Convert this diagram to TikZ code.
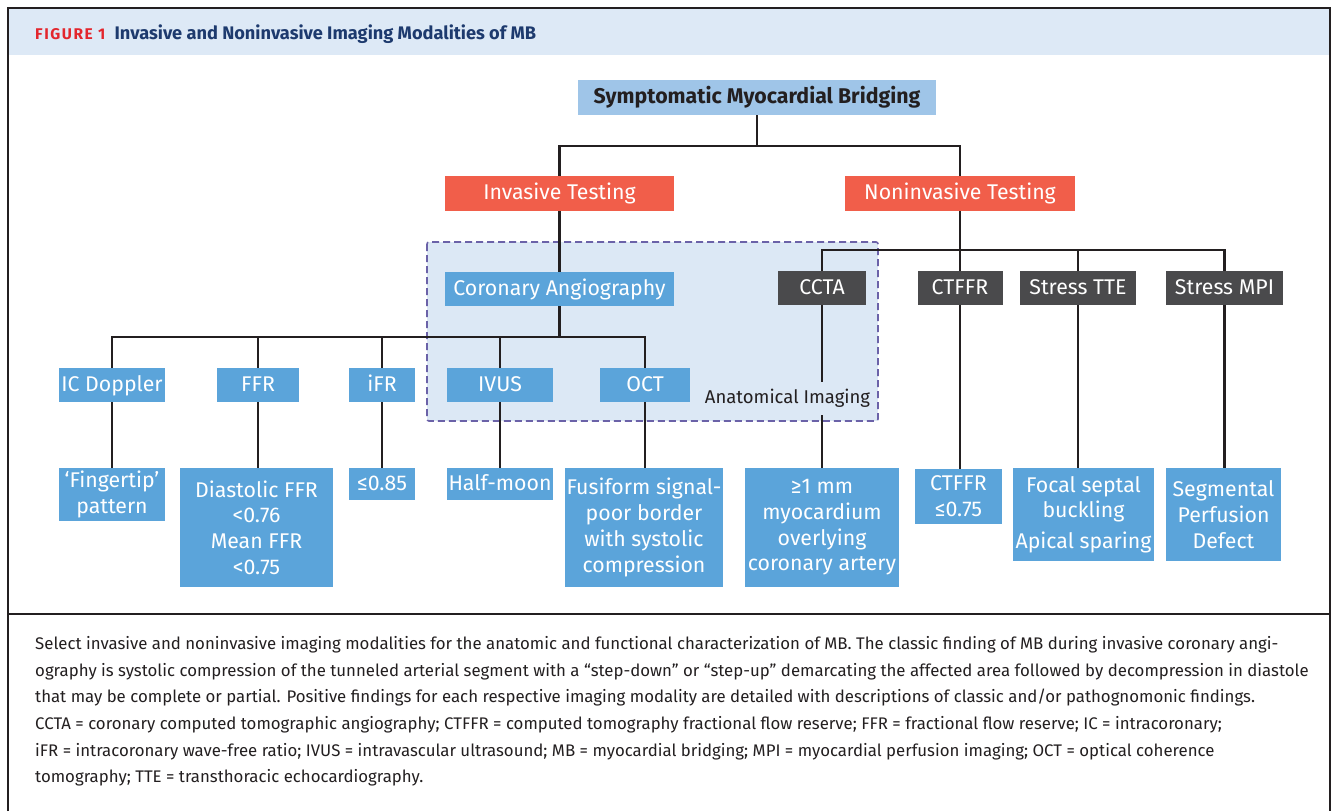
\documentclass[tikz,border=0pt]{standalone}
\usepackage{fontspec}
\setmainfont{Fira Sans}
\usetikzlibrary{positioning}
\definecolor{inkc}{HTML}{231F20}
\definecolor{barbg}{HTML}{DDE9F6}
\definecolor{rootblue}{HTML}{9FC5E8}
\definecolor{coral}{HTML}{F15E4A}
\definecolor{midblue}{HTML}{5BA4DA}
\definecolor{darkgrey}{HTML}{4A4A4C}
\definecolor{zonefill}{HTML}{DCE8F5}
\definecolor{zonedash}{HTML}{6B62A8}
\definecolor{figred}{HTML}{E3262D}
\definecolor{navy}{HTML}{1D3A6E}

\begin{document}
\begin{tikzpicture}[x=1pt, y=-1pt,
    link/.style={draw=inkc, line width=2.4pt},
    box/.style={inner sep=0pt, text=white, align=center, font={\fontsize{21.3}{25.7}\selectfont}},
    single/.style={box, text height=16pt, text depth=3.5pt},
    testbox/.style={single, fill=coral, minimum height=35pt},
    bluebox/.style={single, fill=midblue, minimum height=34pt},
    greybox/.style={single, fill=darkgrey, minimum height=34pt},
    findbox/.style={box, fill=midblue}]
    \useasboundingbox (0,0) rectangle (1335,811);
    \fill[barbg] (9,9) rectangle (1329,55);
    \draw[inkc, line width=2pt] (8,811) -- (8,8) -- (1330,8) -- (1330,811);
    \draw[inkc, line width=2pt] (8,614) -- (1330,614);
    \node[anchor=base west, inner sep=0pt, text=figred, font={\fontsize{15.5}{18}\selectfont\bfseries\addfontfeatures{LetterSpace=10}}] (fig) at (35,39.5) {FIGURE 1};
    \node[inner sep=0pt, text=navy, font={\fontsize{18.2}{21}\selectfont\bfseries}, right=9pt of fig.base east, anchor=base west] (title) {Invasive and Noninvasive Imaging Modalities of MB};

    \fill[zonefill] (427,242) rectangle (878,421);
    \draw[zonedash, line width=1.6pt, dash pattern=on 7pt off 4pt, rounded corners=2pt] (427,242) rectangle (878,421);

    \node[single, fill=rootblue, text=inkc, font={\fontsize{21.3}{25}\selectfont\bfseries}, minimum width=358pt, minimum height=35pt] (root) at (757,97.5) {Symptomatic Myocardial Bridging};
    \node[testbox, minimum width=229pt] (inv) at (559.5,193.5) {Invasive Testing};
    \node[testbox, minimum width=230pt] (noninv) at (960,193.5) {Noninvasive Testing};

    \node[bluebox, minimum width=229pt] (angio) at (559.5,289) {Coronary Angiography};
    \node[greybox, minimum width=88pt] (ccta) at (822,288) {CCTA};
    \node[greybox, minimum width=85pt] (ctffr) at (960,288) {CTFFR};
    \node[greybox, minimum width=116pt] (tte) at (1078,288) {Stress TTE};
    \node[greybox, minimum width=117pt] (mpi) at (1224.5,288) {Stress MPI};

    \node[bluebox, minimum width=106pt] (icd) at (112,385) {IC Doppler};
    \node[bluebox, minimum width=82pt] (ffr) at (258,385) {FFR};
    \node[bluebox, minimum width=66pt] (ifr) at (382,385) {iFR};
    \node[bluebox, minimum width=106pt] (ivus) at (500,385) {IVUS};
    \node[bluebox, minimum width=90pt] (oct) at (645,385) {OCT};

    \node[findbox, minimum width=106pt, minimum height=53pt] (ricd) at (112,494.5) {‘Fingertip’\\pattern};
    \node[findbox, minimum width=153pt, minimum height=119pt] (rffr) at (256.5,527.5) {Diastolic FFR\\<0.76\\Mean FFR\\<0.75};
    \node[findbox, single, minimum width=66pt, minimum height=32pt] (rifr) at (382,484) {≤0.85};
    \node[findbox, single, minimum width=106pt, minimum height=32pt] (rivus) at (500,484) {Half-moon};
    \node[findbox, minimum width=158pt, minimum height=119pt] (roct) at (644,527.5) {Fusiform signal-\\poor border\\with systolic\\compression};
    \node[findbox, minimum width=154pt, minimum height=119pt] (rccta) at (822,527.5) {≥1 mm\\myocardium\\overlying\\coronary artery};
    \node[findbox, minimum width=87pt, minimum height=55pt] (rctffr) at (958.5,496.5) {CTFFR\\≤0.75};
    \node[findbox, minimum width=141pt, minimum height=93pt] (rtte) at (1083.5,514.5) {Focal septal\\buckling\\[5pt]Apical sparing};
    \node[findbox, minimum width=115pt, minimum height=93pt] (rmpi) at (1223.5,514.5) {Segmental\\Perfusion\\Defect};

    \coordinate (top) at (757,146);
    \coordinate (fanA) at (559.5,337);
    \coordinate (fanB) at (960,250);
    \draw[link] (root) -- (top);
    \draw[link] (inv) |- (top);
    \draw[link] (noninv) |- (top);
    \draw[link] (inv) -- (angio);
    \draw[link] (angio) -- (fanA);
    \foreach \n in {icd, ffr, ifr, ivus, oct}
        \draw[link] (\n) |- (fanA);
    \draw[link] (noninv) -- (fanB);
    \foreach \n in {ccta, ctffr, tte, mpi}
        \draw[link] (\n) |- (fanB);
    \foreach \a/\b in {icd/ricd, ffr/rffr, ifr/rifr, ivus/rivus, oct/roct, ccta/rccta, ctffr/rctffr, tte/rtte, mpi/rmpi}
        \draw[link] (\a) -- (\a |- \b.north);

    \node[fill=zonefill, text=inkc, inner xsep=2pt, inner ysep=0pt, minimum height=33pt, font={\fontsize{18.5}{21}\selectfont}] (zonelabel) at (787.5,398.5) {Anatomical Imaging};

    \node[anchor=north west, inner sep=0pt, align=left, text=inkc, font={\fontsize{16.8}{26.7}\selectfont}] (caption) at (35,636) {Select invasive and noninvasive imaging modalities for the anatomic and functional characterization of MB. The classic finding of MB during invasive coronary angi-\\ography is systolic compression of the tunneled arterial segment with a “step-down” or “step-up” demarcating the affected area followed by decompression in diastole\\that may be complete or partial. Positive findings for each respective imaging modality are detailed with descriptions of classic and/or pathognomonic findings.\\CCTA = coronary computed tomographic angiography; CTFFR = computed tomography fractional flow reserve; FFR = fractional flow reserve; IC = intracoronary;\\iFR = intracoronary wave-free ratio; IVUS = intravascular ultrasound; MB = myocardial bridging; MPI = myocardial perfusion imaging; OCT = optical coherence\\tomography; TTE = transthoracic echocardiography.};
\end{tikzpicture}
\end{document}
